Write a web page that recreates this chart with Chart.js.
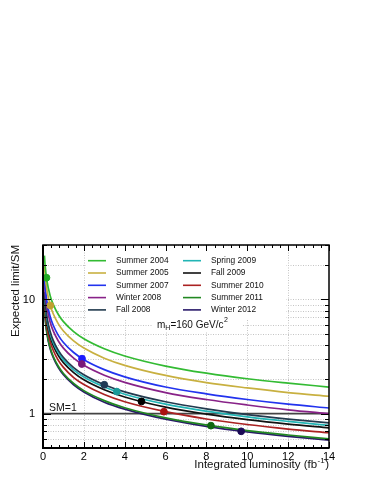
<!DOCTYPE html>
<html lang="en">
<head>
    <meta charset="UTF-8">
    <title>Expected limit vs luminosity</title>
    <script src="https://cdn.jsdelivr.net/npm/chart.js"></script>
    <style>
        body {
            margin: 0;
            padding: 0;
            background-color: #fff;
        }
        canvas {
            display: block;
        }
    </style>
</head>
<body>
    <canvas id="limitChart" width="374" height="484"></canvas>

    <script>
        // integrated luminosity (fb^-1) where the curves are sampled
        const lumi = [0.07, 0.1, 0.2, 0.35, 0.5, 0.75, 1, 1.5, 2, 3, 4, 6, 8, 10, 12, 14];

        const periods = ['Summer 2004', 'Summer 2005', 'Summer 2007', 'Winter 2008', 'Fall 2008',
                         'Spring 2009', 'Fall 2009', 'Summer 2010', 'Summer 2011', 'Winter 2012'];

        // expected limit / SM
        const summer2004 = [24.2, 20.2, 14.3, 10.8, 9.05, 7.39, 6.4, 5.23, 4.53, 3.70, 3.2, 2.61, 2.26, 2.02, 1.85, 1.71];
        const summer2005 = [20.0, 16.8, 11.9, 8.96, 7.49, 6.12, 5.3, 4.33, 3.75, 3.06, 2.65, 2.16, 1.87, 1.68, 1.53, 1.42];
        const summer2007 = [15.9, 13.3, 9.39, 7.10, 5.94, 4.85, 4.2, 3.43, 2.97, 2.43, 2.1, 1.71, 1.49, 1.33, 1.21, 1.12];
        const winter2008 = [14.2, 11.9, 8.39, 6.34, 5.30, 4.33, 3.75, 3.06, 2.65, 2.17, 1.88, 1.53, 1.33, 1.19, 1.08, 1.0];
        const fall2008   = [11.7, 9.80, 6.93, 5.24, 4.38, 3.58, 3.1, 2.53, 2.19, 1.79, 1.55, 1.27, 1.10, 0.98, 0.895, 0.83];
        const spring2009 = [11.2, 9.36, 6.62, 5.00, 4.19, 3.42, 2.96, 2.42, 2.09, 1.71, 1.48, 1.21, 1.05, 0.936, 0.855, 0.79];
        const fall2009   = [10.6, 8.85, 6.26, 4.73, 3.96, 3.23, 2.8, 2.29, 1.98, 1.62, 1.4, 1.14, 0.99, 0.885, 0.808, 0.75];
        const summer2010 = [9.60, 8.03, 5.68, 4.29, 3.59, 2.93, 2.54, 2.07, 1.80, 1.47, 1.27, 1.04, 0.898, 0.803, 0.733, 0.68];
        const summer2011 = [8.51, 7.11, 5.03, 3.80, 3.18, 2.60, 2.25, 1.84, 1.59, 1.30, 1.125, 0.918, 0.796, 0.711, 0.65, 0.60];
        const winter2012 = [8.28, 6.92, 4.90, 3.70, 3.10, 2.53, 2.19, 1.79, 1.55, 1.26, 1.095, 0.894, 0.774, 0.692, 0.632, 0.585];

        // luminosity collected at each period and its expected limit (the dots)
        const currentLumi  = [0.17, 0.36, 1.91, 1.9, 3.0, 3.61, 4.82, 5.92, 8.22, 9.7];
        const currentLimit = [15.5, 8.85, 3.03, 2.72, 1.79, 1.56, 1.28, 1.04, 0.785, 0.70];

        const yTickValues = [0.5, 0.6, 0.7, 0.8, 0.9, 1, 2, 3, 4, 5, 6, 7, 8, 9, 10, 20, 30];
        const yLabelValues = [1, 10];

        const curves = [summer2004, summer2005, summer2007, winter2008, fall2008,
                        spring2009, fall2009, summer2010, summer2011, winter2012];
        const lineColors = ['#33bb33', '#c8b040', '#2233ee', '#882288', '#223a4e',
                            '#22b5b5', '#111111', '#aa2222', '#228822', '#2a1a6a'];
        const dotColors  = ['#22aa22', '#c0a030', '#1a1aff', '#7a1a7a', '#1f3a55',
                            '#1a9a9a', '#000000', '#aa1111', '#116611', '#1a0a55'];

        const FONT = '"Liberation Sans", Arial, Helvetica, sans-serif';

        const datasets = curves.map((vals, i) => ({
            label: periods[i],
            data: vals.map((v, j) => ({ x: lumi[j], y: v })),
            borderColor: lineColors[i],
            borderWidth: 1.7,
            pointRadius: 0,
            fill: false,
            cubicInterpolationMode: 'monotone'
        }));

        // the dots go on top of the curves
        datasets.push({
            type: 'scatter',
            label: 'current',
            data: currentLumi.map((x, i) => ({ x: x, y: currentLimit[i] })),
            backgroundColor: dotColors,
            borderColor: dotColors,
            pointRadius: 3.4,
            order: -1
        });

        // grid, white legend background, SM=1 line
        const backgroundPlugin = {
            id: 'background',
            beforeDatasetsDraw(chart) {
                const { ctx, chartArea: a, scales: { x, y } } = chart;
                ctx.save();
                ctx.strokeStyle = '#c4c4c4';
                ctx.lineWidth = 1;
                ctx.setLineDash([1, 1.5]);
                for (let v = 2; v < 14; v += 2) {
                    const px = Math.round(x.getPixelForValue(v)) + 0.5;
                    ctx.beginPath(); ctx.moveTo(px, a.top); ctx.lineTo(px, a.bottom); ctx.stroke();
                }
                yTickValues.forEach(v => {
                    if (v === 1) return;
                    const py = Math.round(y.getPixelForValue(v)) + 0.5;
                    ctx.beginPath(); ctx.moveTo(a.left, py); ctx.lineTo(a.right, py); ctx.stroke();
                });
                ctx.setLineDash([]);

                // legend and label boxes hide the grid
                ctx.fillStyle = '#fff';
                ctx.fillRect(86, 251, 200, 68);
                ctx.fillRect(152, 319, 90, 13);

                // SM = 1
                const py1 = y.getPixelForValue(1);
                ctx.strokeStyle = '#444';
                ctx.lineWidth = 1.8;
                ctx.beginPath(); ctx.moveTo(a.left, py1); ctx.lineTo(a.right, py1); ctx.stroke();
                ctx.restore();
            }
        };

        // ROOT style frame, inner ticks, legend and labels
        const framePlugin = {
            id: 'frame',
            afterDraw(chart) {
                const { ctx, chartArea: a, scales: { x, y } } = chart;
                ctx.save();
                ctx.strokeStyle = '#000';
                ctx.lineWidth = 1;

                // x ticks (bottom and top)
                for (let k = 0; k <= 35; k++) {
                    const v = k * 0.4;
                    const major = Math.abs(v / 2 - Math.round(v / 2)) < 1e-6;
                    const len = major ? 6 : 3;
                    const px = Math.round(x.getPixelForValue(v)) + 0.5;
                    ctx.beginPath();
                    ctx.moveTo(px, a.bottom); ctx.lineTo(px, a.bottom - len);
                    ctx.moveTo(px, a.top); ctx.lineTo(px, a.top + len);
                    ctx.stroke();
                }
                // y ticks (left and right)
                yTickValues.forEach(v => {
                    const len = yLabelValues.includes(v) ? 8 : 4;
                    const py = Math.round(y.getPixelForValue(v)) + 0.5;
                    ctx.beginPath();
                    ctx.moveTo(a.left, py); ctx.lineTo(a.left + len, py);
                    ctx.moveTo(a.right, py); ctx.lineTo(a.right - len, py);
                    ctx.stroke();
                });

                // frame
                ctx.lineWidth = 1.5;
                ctx.strokeRect(a.left, a.top, a.right - a.left, a.bottom - a.top);
                ctx.lineWidth = 2;
                ctx.beginPath();
                ctx.moveTo(a.left, a.top); ctx.lineTo(a.left, a.bottom); ctx.lineTo(a.right, a.bottom);
                ctx.stroke();

                // legend, two columns
                ctx.textBaseline = 'middle';
                ctx.textAlign = 'left';
                ctx.font = '8.4px ' + FONT;
                periods.forEach((name, i) => {
                    const col = i < 5 ? 0 : 1;
                    const row = i % 5;
                    const ly = 260.7 + row * 12.3;
                    const lx = col ? 183 : 88;
                    ctx.strokeStyle = lineColors[i];
                    ctx.lineWidth = 1.6;
                    ctx.beginPath(); ctx.moveTo(lx, ly); ctx.lineTo(lx + 18, ly); ctx.stroke();
                    ctx.fillStyle = '#111';
                    ctx.fillText(name, lx + 28, ly);
                });

                // m_H = 160 GeV/c^2
                ctx.fillStyle = '#111';
                ctx.font = '10px ' + FONT;
                let tx = 157;
                ctx.fillText('m', tx, 325); tx += ctx.measureText('m').width;
                ctx.font = '7px ' + FONT;
                ctx.fillText('H', tx, 328.5); tx += ctx.measureText('H').width;
                ctx.font = '10px ' + FONT;
                ctx.fillText('=160 GeV/c', tx, 325); tx += ctx.measureText('=160 GeV/c').width;
                ctx.font = '7px ' + FONT;
                ctx.fillText('2', tx + 0.5, 320.5);

                // SM=1
                ctx.font = '10.5px ' + FONT;
                ctx.fillText('SM=1', 49, 408);

                // y title
                ctx.font = '11.5px ' + FONT;
                ctx.save();
                ctx.translate(16, a.top);
                ctx.rotate(-Math.PI / 2);
                ctx.textAlign = 'right';
                ctx.fillText('Expected limit/SM', 0, 0);
                ctx.restore();

                // x title, right aligned
                ctx.textAlign = 'left';
                const t1 = 'Integrated luminosity (fb';
                const w1 = ctx.measureText(t1).width;
                ctx.font = '8px ' + FONT;
                const w2 = ctx.measureText('-1').width;
                ctx.font = '11.5px ' + FONT;
                const w3 = ctx.measureText(')').width;
                let sx = a.right - (w1 + w2 + w3 + 1);
                ctx.fillText(t1, sx, 465);
                ctx.font = '8px ' + FONT;
                ctx.fillText('-1', sx + w1 + 0.5, 460.5);
                ctx.font = '11.5px ' + FONT;
                ctx.fillText(')', sx + w1 + w2 + 1, 465);

                ctx.restore();
            }
        };

        const ctx = document.getElementById('limitChart').getContext('2d');
        const limitChart = new Chart(ctx, {
            type: 'line',
            data: { datasets: datasets },
            options: {
                responsive: false,
                animation: false,
                devicePixelRatio: 1,
                layout: { padding: { top: 245, right: 45, left: 0, bottom: 0 } },
                plugins: {
                    legend: { display: false },
                    tooltip: { enabled: false }
                },
                scales: {
                    x: {
                        type: 'linear',
                        min: 0,
                        max: 14,
                        grid: { display: false, drawTicks: false },
                        border: { display: false },
                        ticks: {
                            stepSize: 2,
                            padding: 2,
                            maxRotation: 0,
                            color: '#000',
                            font: { family: FONT, size: 11 }
                        },
                        afterFit: s => { s.height = 36; }
                    },
                    y: {
                        type: 'logarithmic',
                        min: 0.5,
                        max: 30,
                        grid: { display: false, drawTicks: false },
                        border: { display: false },
                        afterBuildTicks: s => { s.ticks = yTickValues.map(v => ({ value: v })); },
                        ticks: {
                            autoSkip: false,
                            padding: 8,
                            color: '#000',
                            font: { family: FONT, size: 11 },
                            callback: v => yLabelValues.includes(v) ? String(v) : ''
                        },
                        afterFit: s => { s.width = 43; }
                    }
                }
            },
            plugins: [backgroundPlugin, framePlugin]
        });
    </script>
</body>
</html>
